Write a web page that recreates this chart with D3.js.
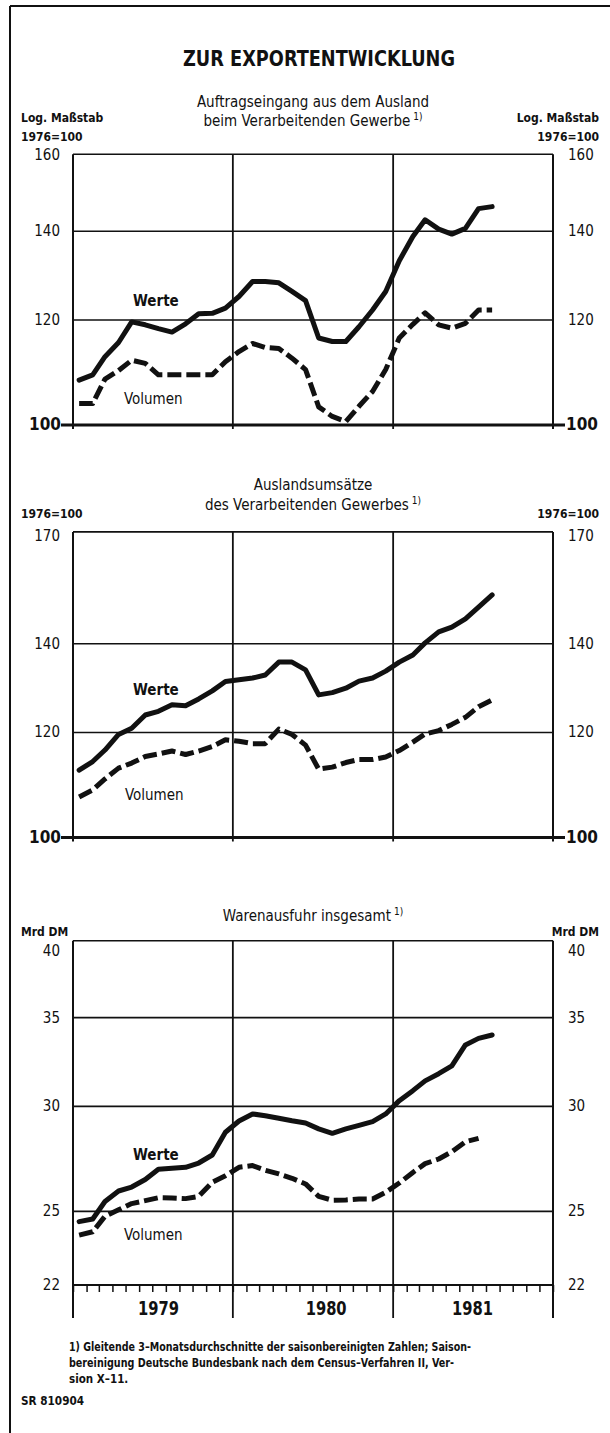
<!DOCTYPE html>
<html><head><meta charset="utf-8">
<script src="https://cdn.jsdelivr.net/npm/d3@7"></script>
<style>
html,body{margin:0;padding:0;background:#fff;}
svg{display:block;}
text{font-family:"DejaVu Sans Condensed","Liberation Sans Narrow","Roboto Condensed","Arial Narrow",sans-serif;font-stretch:condensed;fill:#111;}
</style></head>
<body>
<script>
// ---- Data (monthly, 3-month moving averages, Jan 1979 onward) ----
const monthStart = new Date(1979, 0, 1);
const yearLabels = ["1979", "1980", "1981"];

// Auftragseingang aus dem Ausland (1976=100)
const ordersValue  = [108.1,109.1,112.6,115.4,119.6,119.0,118.2,117.5,119.2,121.3,121.4,122.5,
                      125.0,128.3,128.3,128.0,126.1,124.1,116.3,115.6,115.6,118.6,122.1,126.1,
                      133.0,138.7,142.8,140.5,139.3,140.7,145.6,146.1];
const ordersVolume = [103.8,103.8,108.3,109.9,111.9,111.3,109.1,109.1,109.1,109.1,109.1,111.6,
                      113.6,115.2,114.4,114.2,112.3,110.1,103.2,101.5,100.6,103.3,106.0,110.1,
                      116.3,119.1,121.5,119.0,118.3,119.3,122.1,122.1];
const ordersTicks = [100, 120, 140, 160];

// Auslandsumsätze (1976=100)
const salesValue  = [112.4,114.1,116.4,119.6,120.9,123.7,124.5,125.9,125.7,127.2,129.0,131.1,
                     131.5,131.9,132.6,135.6,135.6,133.8,128.1,128.6,129.6,131.2,131.9,133.5,
                     135.6,137.3,140.2,142.9,144.1,146.2,149.2,152.4];
const salesVolume = [107.3,108.6,110.7,112.8,113.8,115.1,115.6,116.2,115.5,116.2,117.1,118.5,
                     118.2,117.7,117.7,120.7,119.6,117.4,112.6,113.0,113.9,114.5,114.5,115.0,
                     116.3,118.0,119.7,120.4,121.7,123.2,125.5,127.0];
const salesTicks = [100, 120, 140, 170];

// Warenausfuhr insgesamt (Mrd DM)
const exportsValue  = [24.56,24.67,25.43,25.90,26.08,26.42,26.90,26.94,26.99,27.19,27.57,28.68,
                       29.25,29.61,29.52,29.39,29.26,29.15,28.85,28.63,28.85,29.03,29.22,29.61,
                       30.30,30.83,31.36,31.75,32.19,33.38,33.76,33.96];
const exportsVolume = [23.99,24.13,24.79,25.07,25.34,25.47,25.60,25.59,25.56,25.66,26.30,26.60,
                       26.99,27.07,26.85,26.68,26.48,26.22,25.66,25.49,25.50,25.54,25.54,25.84,
                       26.26,26.75,27.16,27.38,27.73,28.21,28.38];
const exportsTicks = [22, 25, 30, 35, 40];

// ---- Drawing ----
const W = 610, H = 1433;
const svg = d3.select("body").append("svg").attr("width", W).attr("height", H);

const x = d3.scaleTime().domain([new Date(1979,0,1), new Date(1982,0,1)]).range([73, 553]);
const dateOf = i => d3.timeDay.offset(d3.timeMonth.offset(monthStart, i), 14);
const L = x.range()[0], R = x.range()[1];
const yearBounds = [new Date(1980,0,1), new Date(1981,0,1)];

// outer frame
svg.append("line").attr("x1",10).attr("x2",W).attr("y1",6).attr("y2",6).attr("stroke","#111").attr("stroke-width",2);
svg.append("line").attr("x1",10).attr("x2",10).attr("y1",6).attr("y2",H).attr("stroke","#111").attr("stroke-width",2);

svg.append("text").attr("x",319).attr("y",66).attr("text-anchor","middle")
  .attr("font-size",22).attr("font-weight","bold")
  .attr("textLength",272).attr("lengthAdjust","spacingAndGlyphs").text("ZUR EXPORTENTWICKLUNG");

function panel(cfg){
  const y = d3.scaleLog().domain(cfg.domain).range(cfg.range);
  const top = y(cfg.domain[1]), bot = y(cfg.domain[0]);
  const g = svg.append("g");
  // titles
  cfg.title.forEach((t,i)=>{
    const tx = g.append("text").attr("x",313).attr("y",cfg.titleY[i]).attr("text-anchor","middle")
      .attr("font-size",15).text(t);
    if (i === cfg.title.length-1) tx.append("tspan").attr("font-size",10).attr("dy",-6).attr("dx",3).text("1)");
  });
  // unit labels
  cfg.units.forEach((u,i)=>{
    g.append("text").attr("x",21).attr("y",cfg.unitY[i]).attr("font-size",12).attr("font-weight","bold").text(u);
    g.append("text").attr("x",599).attr("y",cfg.unitY[i]).attr("text-anchor","end").attr("font-size",12).attr("font-weight","bold").text(u);
  });
  // horizontal grid
  cfg.ticks.forEach(t=>{
    const yy = y(t);
    const isBase = t === cfg.domain[0];
    const isTop = t === cfg.domain[1];
    const stub = isBase && cfg.stub;
    g.append("line").attr("x1", stub? L-12 : L).attr("x2", stub? R+12 : R).attr("y1",yy).attr("y2",yy)
      .attr("stroke","#111").attr("stroke-width", stub ? 3 : (isBase ? 2 : 1.6));
    const ly = yy + (isTop ? cfg.topLabelDy : 5);
    g.append("text").attr("x", stub? L-12 : L-13).attr("y",ly).attr("text-anchor","end")
      .attr("font-size", stub?17:15).attr("font-weight", stub?"bold":"normal").text(t);
    g.append("text").attr("x", stub? R+13 : R+15).attr("y",ly)
      .attr("font-size", stub?17:15).attr("font-weight", stub?"bold":"normal").text(t);
  });
  const vBottom = cfg.vBottom || (bot + 4);
  // verticals
  [L, R].forEach(xx=> g.append("line").attr("x1",xx).attr("x2",xx).attr("y1",top).attr("y2",vBottom)
      .attr("stroke","#111").attr("stroke-width",2));
  yearBounds.forEach(d=> g.append("line").attr("x1",x(d)).attr("x2",x(d)).attr("y1",top).attr("y2",vBottom)
      .attr("stroke","#111").attr("stroke-width",1.8));
  // series
  const line = d3.line().x((d,i)=>x(dateOf(i))).y(d=>y(d)).curve(d3.curveLinear);
  g.append("path").datum(cfg.volume).attr("d",line).attr("fill","none").attr("stroke","#111")
    .attr("stroke-width",5).attr("stroke-dasharray","14,5").attr("stroke-linejoin","round");
  g.append("path").datum(cfg.value).attr("d",line).attr("fill","none").attr("stroke","#111")
    .attr("stroke-width",5).attr("stroke-linejoin","round").attr("stroke-linecap","round");
  g.append("text").attr("x",cfg.werte[0]).attr("y",cfg.werte[1]).attr("font-size",15).attr("font-weight","bold").text("Werte");
  g.append("text").attr("x",cfg.vol[0]).attr("y",cfg.vol[1]).attr("font-size",15).text("Volumen");
  return {g, y, top, bot};
}

panel({domain:[100,160], range:[425,154.3], ticks:ordersTicks, stub:true, topLabelDy:6,
  title:["Auftragseingang aus dem Ausland","beim Verarbeitenden Gewerbe"], titleY:[107,126],
  units:["Log. Maßstab","1976=100"], unitY:[122,141],
  value:ordersValue, volume:ordersVolume, werte:[133,306], vol:[124,404]});

panel({domain:[100,170], range:[837.5,531.9], ticks:salesTicks, stub:true, topLabelDy:9,
  title:["Auslandsumsätze","des Verarbeitenden Gewerbes"], titleY:[490,510],
  units:["1976=100"], unitY:[518],
  value:salesValue, volume:salesVolume, werte:[133,695], vol:[125,800]});

const p3 = panel({domain:[22,40], range:[1285,940.7], ticks:exportsTicks, stub:false, topLabelDy:15, vBottom:1318,
  title:["Warenausfuhr insgesamt"], titleY:[921],
  units:["Mrd DM"], unitY:[936],
  value:exportsValue, volume:exportsVolume, werte:[133,1160], vol:[124,1240]});

// monthly ticks on the bottom axis of the last panel
const axis = d3.axisBottom(x).ticks(d3.timeMonth.every(1)).tickSize(7).tickFormat("");
const ax = svg.append("g").attr("transform",`translate(0,${p3.bot})`).call(axis);
ax.select(".domain").remove();
ax.selectAll(".tick line").attr("stroke","#111").attr("stroke-width",1.5);

// year labels
const yearLabelDates = [new Date(1979,6,15), new Date(1980,7,1), new Date(1981,6,1)];
yearLabels.forEach((yl,i)=>{
  svg.append("text").attr("x",x(yearLabelDates[i])).attr("y",1315).attr("text-anchor","middle")
    .attr("font-size",19).attr("font-weight","bold")
    .attr("textLength",41).attr("lengthAdjust","spacingAndGlyphs").text(yl);
});

// footnote
const foot = ["1) Gleitende 3–Monatsdurchschnitte der saisonbereinigten Zahlen; Saison-",
              "bereinigung Deutsche Bundesbank nach dem Census–Verfahren II, Ver-",
              "sion X–11."];
const footLen = [402, 385, null];
foot.forEach((f,i)=> {
  const t = svg.append("text").attr("x",69).attr("y",1351+i*16).attr("font-size",11.5).attr("font-weight","bold").text(f);
  if (footLen[i]) t.attr("textLength",footLen[i]).attr("lengthAdjust","spacingAndGlyphs");
});
svg.append("text").attr("x",21).attr("y",1405).attr("font-size",12).attr("font-weight","bold")
  .attr("textLength",63).attr("lengthAdjust","spacingAndGlyphs").text("SR 810904");
</script>
</body></html>
